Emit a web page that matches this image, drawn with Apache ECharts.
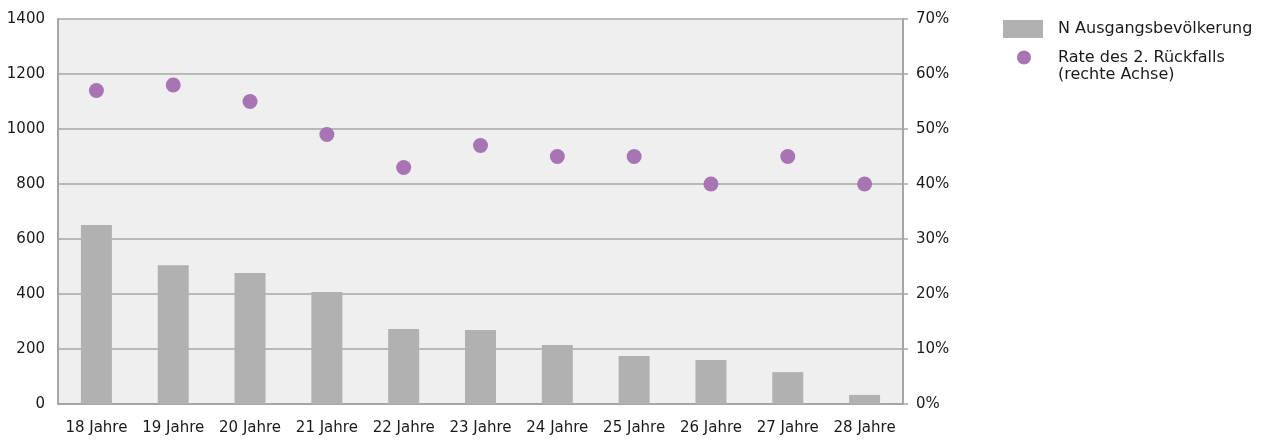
<!DOCTYPE html>
<html>
<head>
<meta charset="utf-8">
<script src="https://cdn.jsdelivr.net/npm/echarts@6/dist/echarts.min.js"></script>
<style>
html,body{margin:0;padding:0;background:#fff;}
#chart{width:1269px;height:441px;}
</style>
</head>
<body>
<div id="chart"></div>
<script>
const categories = ['18 Jahre','19 Jahre','20 Jahre','21 Jahre','22 Jahre','23 Jahre','24 Jahre','25 Jahre','26 Jahre','27 Jahre','28 Jahre'];
const populationN = [651, 505, 476, 407, 273, 269, 215, 175, 160, 116, 33];
const relapseRate = [57, 58, 55, 49, 43, 47, 45, 45, 40, 45, 40];
const leftTicks = {min: 0, max: 1400, interval: 200};
const rightTicks = {min: 0, max: 70, interval: 10};

const FONT = 'DejaVu Sans';
const TXT = '#1a1a1a';
const GRID = '#a6a6a6';

const chart = echarts.init(document.getElementById('chart'));
chart.setOption({
  animation: false,
  textStyle: {fontFamily: FONT},
  grid: {left: 58, right: 366, top: 19, bottom: 37, show: true, backgroundColor: '#efefef', borderWidth: 0},
  legend: [
    {
      data: [{name: 'N Ausgangsbevölkerung', icon: 'rect'}],
      left: 1003, top: 20, orient: 'vertical', padding: 0,
      itemWidth: 40, itemHeight: 18,
      textStyle: {fontFamily: FONT, fontSize: 16, color: TXT, padding: [0,0,0,10]}
    },
    {
      data: [{name: 'Rate des 2. Rückfalls\n(rechte Achse)', icon: 'circle'}],
      left: 1017, top: 32, orient: 'vertical', padding: 0,
      itemWidth: 14, itemHeight: 14,
      formatter: function (n) { return '\n' + n; },
      textStyle: {fontFamily: FONT, fontSize: 16, color: TXT, lineHeight: 17, padding: [0,0,0,22]}
    }
  ],
  xAxis: {
    type: 'category', data: categories,
    axisLine: {lineStyle: {color: GRID, width: 2}},
    axisTick: {show: false},
    axisLabel: {fontFamily: FONT, fontSize: 15, color: TXT, margin: 17, interval: 0}
  },
  yAxis: [
    {
      type: 'value', min: leftTicks.min, max: leftTicks.max, interval: leftTicks.interval,
      axisLine: {show: true, lineStyle: {color: GRID, width: 2}},
      axisTick: {show: false},
      splitLine: {lineStyle: {color: GRID, width: 1.5}},
      axisLabel: {fontFamily: FONT, fontSize: 15, color: TXT, margin: 13, formatter: function (v) { return String(v); }}
    },
    {
      type: 'value', min: rightTicks.min, max: rightTicks.max, interval: rightTicks.interval,
      position: 'right',
      axisLine: {show: true, lineStyle: {color: GRID, width: 2}},
      axisTick: {show: true, length: 5, lineStyle: {color: GRID, width: 1.5}},
      splitLine: {show: false},
      axisLabel: {fontFamily: FONT, fontSize: 15, color: TXT, margin: 13, formatter: '{value}%'}
    }
  ],
  series: [
    {
      name: 'N Ausgangsbevölkerung', type: 'bar', data: populationN,
      barWidth: 31, itemStyle: {color: '#b1b1b2'}, yAxisIndex: 0
    },
    {
      name: 'Rate des 2. Rückfalls\n(rechte Achse)', type: 'scatter', data: relapseRate,
      yAxisIndex: 1, symbol: 'circle', symbolSize: 15, itemStyle: {color: '#a874b3', opacity: 1}
    }
  ]
});
</script>
</body>
</html>
